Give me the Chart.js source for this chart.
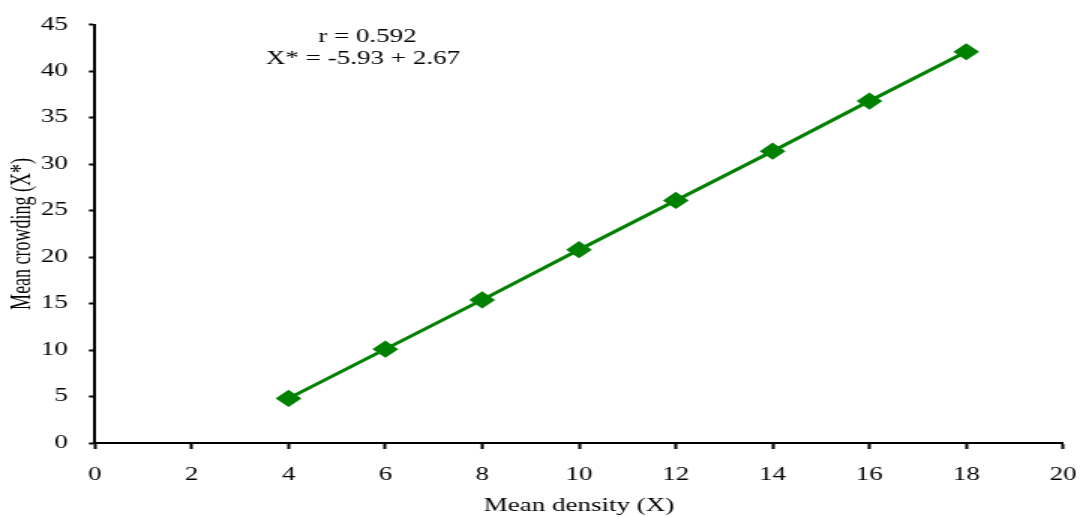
<!DOCTYPE html>
<html>
<head>
<meta charset="utf-8">
<script src="https://cdn.jsdelivr.net/npm/chart.js@4/dist/chart.umd.min.js"></script>
<style>
  html, body { margin: 0; padding: 0; background: #fff; overflow: hidden; }
  /* the original figure is stretched sideways by about 1.5x */
  #wrap { width: 720px; height: 517px; transform: scaleX(1.5); transform-origin: 0 0; }
</style>
</head>
<body>
<div id="wrap"><canvas id="crowdChart" width="720" height="517"></canvas></div>
<script>
// values
const densityX = [4, 6, 8, 10, 12, 14, 16, 18];
const crowdingY = [4.8, 10.1, 15.4, 20.8, 26.1, 31.4, 36.8, 42.1];
const noteLines = ['r = 0.592', 'X* = -5.93 + 2.67'];

const serif = '"Liberation Serif", "DejaVu Serif", serif';

const notePlugin = {
    id: 'notes',
    afterDraw(chart) {
        const ctx = chart.ctx;
        ctx.save();
        ctx.fillStyle = '#000';
        ctx.font = '18px ' + serif;
        ctx.textAlign = 'center';
        ctx.textBaseline = 'middle';
        ctx.fillText(noteLines[0], 245, 37);
        ctx.fillText(noteLines[1], 242, 59);
        ctx.restore();
    }
};

const ctx = document.getElementById('crowdChart').getContext('2d');
new Chart(ctx, {
    type: 'scatter',
    data: {
        datasets: [{
            data: densityX.map((x, i) => ({ x: x, y: crowdingY[i] })),
            showLine: true,
            borderColor: '#008000',
            backgroundColor: '#008000',
            borderWidth: 3,
            pointStyle: 'rectRot',
            pointRadius: 6.5,
            pointHoverRadius: 6.5
        }]
    },
    options: {
        responsive: false,
        animation: false,
        layout: { padding: { top: 22, right: 11.3 } },
        plugins: {
            legend: { display: false },
            tooltip: { enabled: false }
        },
        scales: {
            x: {
                type: 'linear',
                min: 0,
                max: 20,
                ticks: { stepSize: 2, color: '#000', font: { family: serif, size: 18 }, padding: 15 },
                grid: { drawOnChartArea: false, tickLength: 6, tickColor: '#000', tickWidth: 2 },
                border: { color: '#000', width: 2 },
                title: { display: true, text: 'Mean density (X)', color: '#000', font: { family: serif, size: 18 }, padding: 0 },
                afterFit(scale) {
                    scale.height = 74;
                    scale.paddingLeft = 0;
                    scale.paddingRight = 0;
                }
            },
            y: {
                min: 0,
                max: 45,
                ticks: { stepSize: 5, color: '#000', font: { family: serif, size: 18 }, padding: 14 },
                grid: { drawOnChartArea: false, tickLength: 4, tickColor: '#000', tickWidth: 2 },
                border: { color: '#000', width: 2 },
                title: { display: true, text: 'Mean crowding (X*)', color: '#000', font: { family: serif, size: 18 }, padding: { top: 4, bottom: 0 } },
                afterFit(scale) { scale.width = 63.3; }
            }
        }
    },
    plugins: [notePlugin]
});
</script>
</body>
</html>
